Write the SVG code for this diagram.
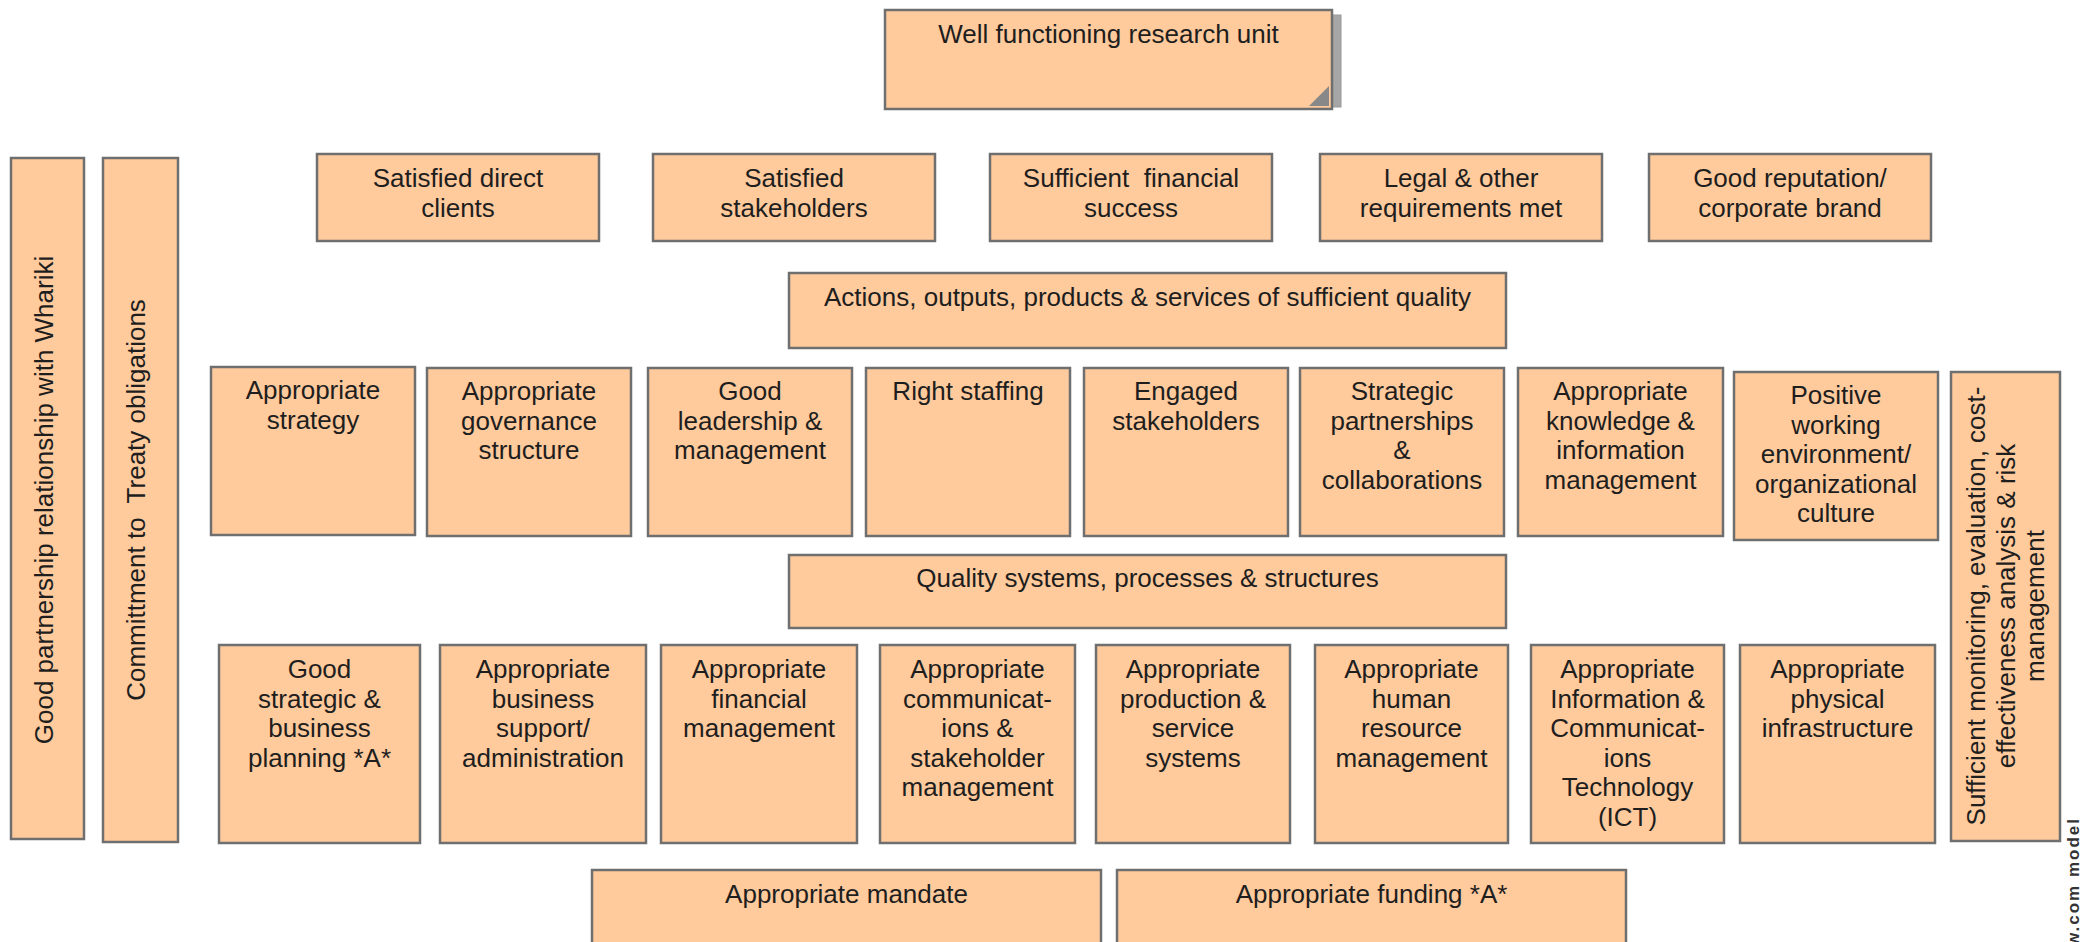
<svg xmlns="http://www.w3.org/2000/svg" width="2082" height="942" viewBox="0 0 2082 942">
<style>
.b{fill:#FFCA9C;stroke:#6f6f6f;stroke-width:2.5}
.t{font-family:"Liberation Sans",Arial,sans-serif;font-size:26px;fill:#1e1e1e;text-anchor:middle}
.wm{font-family:"Liberation Sans",Arial,sans-serif;font-size:17px;font-weight:bold;fill:#333;text-anchor:end;letter-spacing:2px}
</style>
<rect width="2082" height="942" fill="#fff"/>
<g id="connectors"/>
<g id="n-top">
<rect x="893" y="15" width="448" height="92" fill="#a6a6a6" stroke="#999" stroke-width="1"/>
<rect class="b" x="885" y="10" width="447" height="99"/>
<polygon points="1329,86 1329,106 1309,106" fill="#888"/>
<text class="t" x="1108.5" y="43">Well functioning research unit</text>
</g>
<g id="n-clients"><rect class="b" x="317" y="154" width="282" height="87"/><text class="t" x="458" y="187"><tspan x="458">Satisfied direct</tspan><tspan x="458" dy="29.5">clients</tspan></text></g>
<g id="n-stakeholders"><rect class="b" x="653" y="154" width="282" height="87"/><text class="t" x="794" y="187"><tspan x="794">Satisfied</tspan><tspan x="794" dy="29.5">stakeholders</tspan></text></g>
<g id="n-financial"><rect class="b" x="990" y="154" width="282" height="87"/><text class="t" x="1131" y="187" xml:space="preserve"><tspan x="1131">Sufficient  financial</tspan><tspan x="1131" dy="29.5">success</tspan></text></g>
<g id="n-legal"><rect class="b" x="1320" y="154" width="282" height="87"/><text class="t" x="1461" y="187"><tspan x="1461">Legal &amp; other</tspan><tspan x="1461" dy="29.5">requirements met</tspan></text></g>
<g id="n-reputation"><rect class="b" x="1649" y="154" width="282" height="87"/><text class="t" x="1790" y="187"><tspan x="1790">Good reputation/</tspan><tspan x="1790" dy="29.5">corporate brand</tspan></text></g>
<g id="n-actions"><rect class="b" x="789" y="273" width="717" height="75"/><text class="t" x="1147.5" y="306">Actions, outputs, products &amp; services of sufficient quality</text></g>
<g id="n-strategy"><rect class="b" x="211" y="367" width="204" height="168"/><text class="t" y="399"><tspan x="313">Appropriate</tspan><tspan x="313" dy="29.5">strategy</tspan></text></g>
<g id="n-governance"><rect class="b" x="427" y="368" width="204" height="168"/><text class="t" y="400"><tspan x="529">Appropriate</tspan><tspan x="529" dy="29.5">governance</tspan><tspan x="529" dy="29.5">structure</tspan></text></g>
<g id="n-leadership"><rect class="b" x="648" y="368" width="204" height="168"/><text class="t" y="400"><tspan x="750">Good</tspan><tspan x="750" dy="29.5">leadership &amp;</tspan><tspan x="750" dy="29.5">management</tspan></text></g>
<g id="n-staffing"><rect class="b" x="866" y="368" width="204" height="168"/><text class="t" y="400"><tspan x="968">Right staffing</tspan></text></g>
<g id="n-engaged"><rect class="b" x="1084" y="368" width="204" height="168"/><text class="t" y="400"><tspan x="1186">Engaged</tspan><tspan x="1186" dy="29.5">stakeholders</tspan></text></g>
<g id="n-partnerships"><rect class="b" x="1300" y="368" width="204" height="168"/><text class="t" y="400"><tspan x="1402">Strategic</tspan><tspan x="1402" dy="29.5">partnerships</tspan><tspan x="1402" dy="29.5">&amp;</tspan><tspan x="1402" dy="29.5">collaborations</tspan></text></g>
<g id="n-knowledge"><rect class="b" x="1518" y="368" width="205" height="168"/><text class="t" y="400"><tspan x="1620.5">Appropriate</tspan><tspan x="1620.5" dy="29.5">knowledge &amp;</tspan><tspan x="1620.5" dy="29.5">information</tspan><tspan x="1620.5" dy="29.5">management</tspan></text></g>
<g id="n-positive"><rect class="b" x="1734" y="372" width="204" height="168"/><text class="t" y="404"><tspan x="1836">Positive</tspan><tspan x="1836" dy="29.5">working</tspan><tspan x="1836" dy="29.5">environment/</tspan><tspan x="1836" dy="29.5">organizational</tspan><tspan x="1836" dy="29.5">culture</tspan></text></g>
<g id="n-monitoring"><rect class="b" x="1951" y="372" width="109" height="469"/><text class="t" transform="translate(1985,606) rotate(-90)"><tspan x="0" y="0">Sufficient monitoring, evaluation, cost-</tspan><tspan x="0" dy="29.5">effectiveness analysis &amp; risk</tspan><tspan x="0" dy="29.5">management</tspan></text></g>
<g id="n-whariki"><rect class="b" x="11" y="158" width="73" height="681"/><text class="t" transform="translate(53,500) rotate(-90)">Good partnership relationship with Whariki</text></g>
<g id="n-treaty"><rect class="b" x="103" y="158" width="75" height="684"/><text class="t" transform="translate(145,500) rotate(-90)" xml:space="preserve">Committment to  Treaty obligations</text></g>
<g id="n-quality"><rect class="b" x="789" y="555" width="717" height="73"/><text class="t" x="1147.5" y="587">Quality systems, processes &amp; structures</text></g>
<g id="n-planning"><rect class="b" x="219" y="645" width="201" height="198"/><text class="t" y="678"><tspan x="319.5">Good</tspan><tspan x="319.5" dy="29.5">strategic &amp;</tspan><tspan x="319.5" dy="29.5">business</tspan><tspan x="319.5" dy="29.5">planning *A*</tspan></text></g>
<g id="n-admin"><rect class="b" x="440" y="645" width="206" height="198"/><text class="t" y="678"><tspan x="543">Appropriate</tspan><tspan x="543" dy="29.5">business</tspan><tspan x="543" dy="29.5">support/</tspan><tspan x="543" dy="29.5">administration</tspan></text></g>
<g id="n-finmgmt"><rect class="b" x="661" y="645" width="196" height="198"/><text class="t" y="678"><tspan x="759">Appropriate</tspan><tspan x="759" dy="29.5">financial</tspan><tspan x="759" dy="29.5">management</tspan></text></g>
<g id="n-comms"><rect class="b" x="880" y="645" width="195" height="198"/><text class="t" y="678"><tspan x="977.5">Appropriate</tspan><tspan x="977.5" dy="29.5">communicat-</tspan><tspan x="977.5" dy="29.5">ions &amp;</tspan><tspan x="977.5" dy="29.5">stakeholder</tspan><tspan x="977.5" dy="29.5">management</tspan></text></g>
<g id="n-production"><rect class="b" x="1096" y="645" width="194" height="198"/><text class="t" y="678"><tspan x="1193">Appropriate</tspan><tspan x="1193" dy="29.5">production &amp;</tspan><tspan x="1193" dy="29.5">service</tspan><tspan x="1193" dy="29.5">systems</tspan></text></g>
<g id="n-hr"><rect class="b" x="1315" y="645" width="193" height="198"/><text class="t" y="678"><tspan x="1411.5">Appropriate</tspan><tspan x="1411.5" dy="29.5">human</tspan><tspan x="1411.5" dy="29.5">resource</tspan><tspan x="1411.5" dy="29.5">management</tspan></text></g>
<g id="n-ict"><rect class="b" x="1531" y="645" width="193" height="198"/><text class="t" y="678"><tspan x="1627.5">Appropriate</tspan><tspan x="1627.5" dy="29.5">Information &amp;</tspan><tspan x="1627.5" dy="29.5">Communicat-</tspan><tspan x="1627.5" dy="29.5">ions</tspan><tspan x="1627.5" dy="29.5">Technology</tspan><tspan x="1627.5" dy="29.5">(ICT)</tspan></text></g>
<g id="n-physical"><rect class="b" x="1740" y="645" width="195" height="198"/><text class="t" y="678"><tspan x="1837.5">Appropriate</tspan><tspan x="1837.5" dy="29.5">physical</tspan><tspan x="1837.5" dy="29.5">infrastructure</tspan></text></g>
<g id="n-mandate"><rect class="b" x="592" y="870" width="509" height="90"/><text class="t" x="846.5" y="903">Appropriate mandate</text></g>
<g id="n-funding"><rect class="b" x="1117" y="870" width="509" height="90"/><text class="t" x="1371.5" y="903">Appropriate funding *A*</text></g>
<text class="wm" transform="translate(2079,817) rotate(-90)">w.com model</text>
</svg>
